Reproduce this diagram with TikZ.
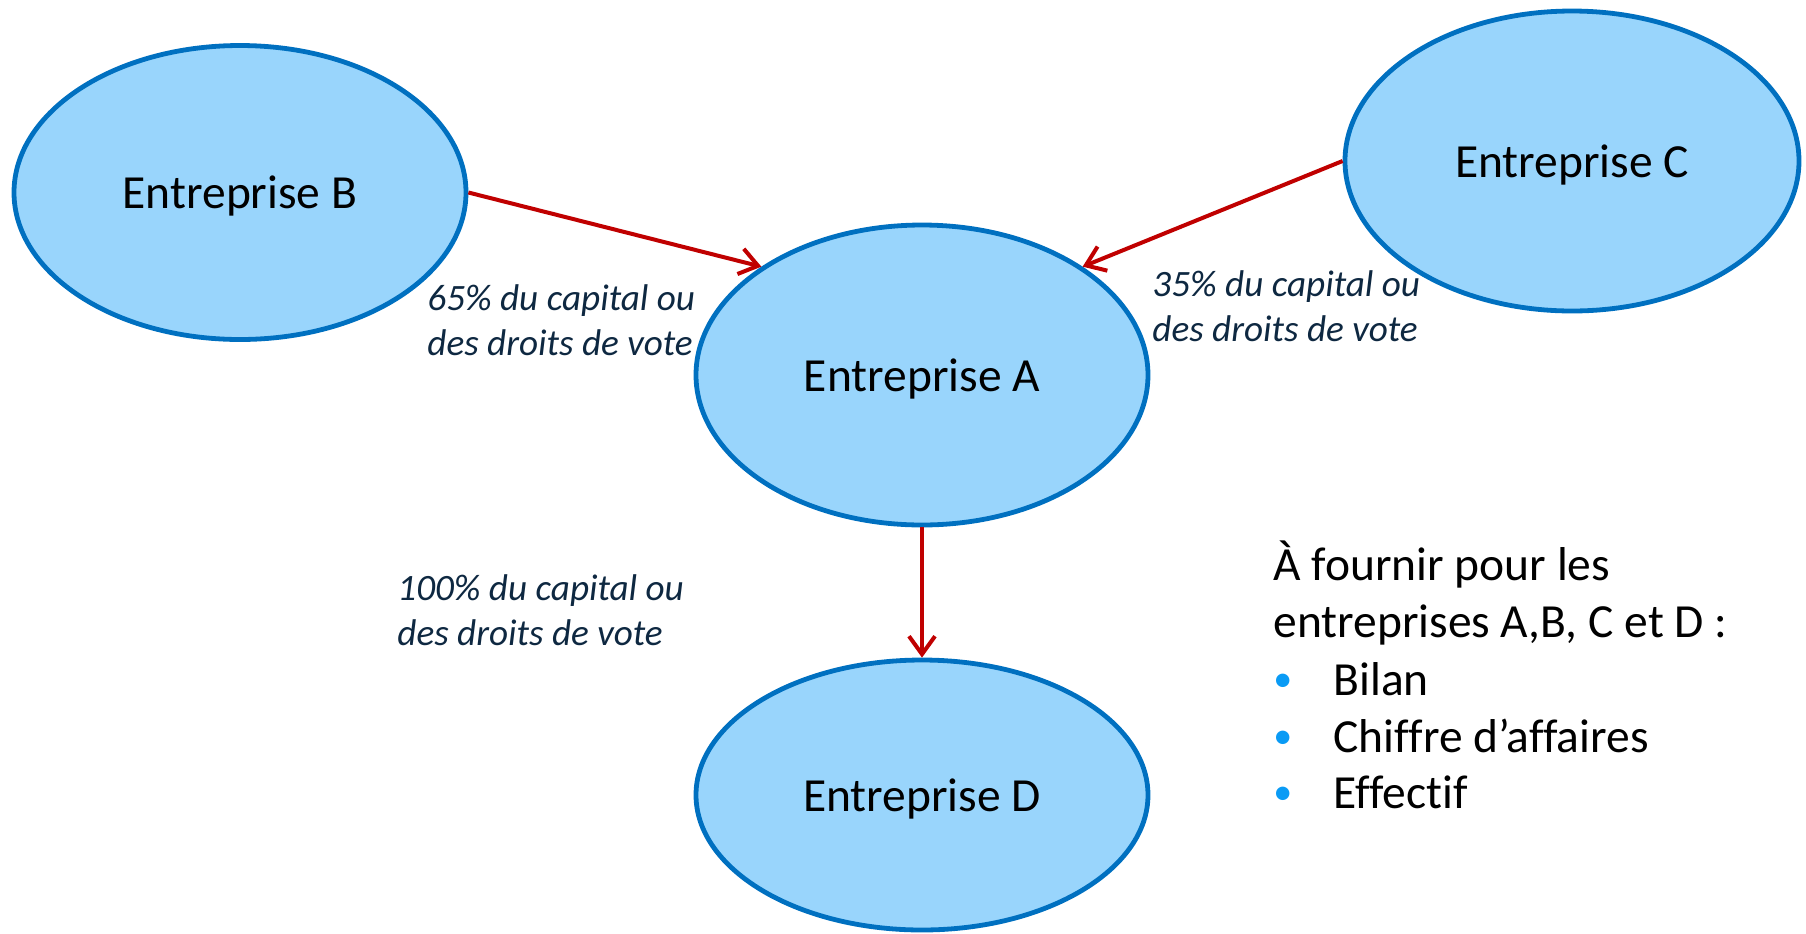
\documentclass[tikz,border=0pt]{standalone}
\usepackage{fontspec}
\setmainfont{Carlito}[Ligatures=CommonOff]
\usetikzlibrary{shapes.geometric}
\usetikzlibrary{positioning}
\usetikzlibrary{arrows.meta}
\definecolor{fondbleu}{HTML}{99D5FC}
\definecolor{bordbleu}{HTML}{0070C0}
\definecolor{flecherouge}{HTML}{C00000}
\definecolor{textenuit}{HTML}{0E2841}
\definecolor{pucebleu}{HTML}{0A9BF5}
\newcommand{\pucebleue}{\makebox[30pt][l]{\raisebox{1.7pt}{\fontsize{19}{19}\selectfont\textcolor{pucebleu}{•}}}}
\tikzset{entreprise/.style={ellipse, draw=bordbleu, fill=fondbleu, line width=2.4pt, inner sep=0pt, minimum width=226pt, minimum height=150pt, text depth=0pt, font=\fontsize{23.75}{28.5}\selectfont},
part/.style={-{Straight Barb[length=9pt,width=13pt]}, draw=flecherouge, line width=2pt},
pourcent/.style={anchor=west, align=left, inner sep=0pt, text=textenuit, font=\fontsize{18.6}{22.5}\selectfont\itshape},
liste/.style={anchor=base west, inner sep=0pt, font=\fontsize{23.75}{28.5}\selectfont}}

\begin{document}
\begin{tikzpicture}[x=0.5pt,y=-0.5pt]
\useasboundingbox (0,0) rectangle (1806,933);
\node (a) [entreprise] at (922,375) {Entreprise A};
\node (b) [entreprise, minimum height=147pt] at (240,192.5) {Entreprise B};
\node (c) [entreprise, minimum width=227pt] at (1572,161) {Entreprise C};
\node (d) [entreprise, below of = a, node distance = 210pt, minimum height=135pt] {Entreprise D};
\draw[part] (b.east) -- (a.146.6);
\draw[part] (c.west) -- (a.34.5);
\draw[part] (a.south) -- (d.north);
\node (pb) [pourcent] at (427,320) {65\% du capital ou\\des droits de vote};
\node (pc) [pourcent] at (1152,306) {35\% du capital ou\\des droits de vote};
\node (pd) [pourcent] at (397,610) {100\% du capital ou\\des droits de vote};
\node (titre) [liste] at (1273,580) {À fournir pour les};
\node (titre2) [liste] at (1273,637) {entreprises A,B, C et D :};
\node (bilan) [liste] at (1273,695) {\pucebleue Bilan};
\node (ca) [liste] at (1273,752) {\pucebleue Chiffre d’affaires};
\node (effectif) [liste] at (1273,808) {\pucebleue Effectif};
\end{tikzpicture}
\end{document}
